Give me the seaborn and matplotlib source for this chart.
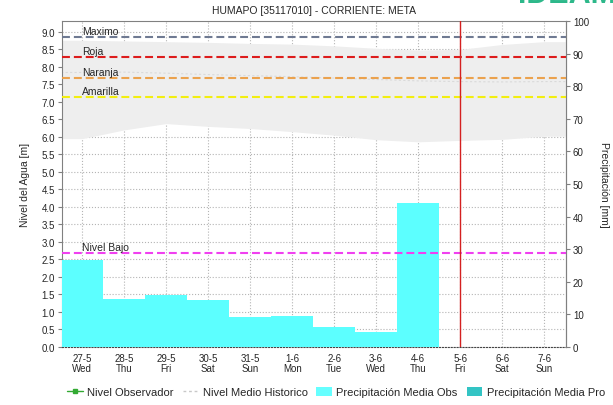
"""Nivel del agua y precipitación - estación HUMAPO (río Meta)."""

import matplotlib

matplotlib.use("Agg")
import matplotlib.pyplot as plt
import numpy as np
import seaborn as sns
from matplotlib.lines import Line2D
from matplotlib.patches import Patch
from matplotlib.ticker import MultipleLocator, FormatStrFormatter

DAYS = ["27-5", "28-5", "29-5", "30-5", "31-5", "1-6", "2-6", "3-6", "4-6", "5-6", "6-6", "7-6"]
WEEKDAYS = ["Wed", "Thu", "Fri", "Sat", "Sun", "Mon", "Tue", "Wed", "Thu", "Fri", "Sat", "Sun"]
PRECIP_MM = [26.8, 14.7, 15.8, 14.3, 9.2, 9.6, 6.0, 4.5, 44.1, 0.0, 0.0, 0.0]

# historic band (min / max) and historic mean, meters, one value per day
HIST_LOW_M = [5.95, 6.2, 6.38, 6.3, 6.24, 6.15, 6.05, 5.92, 5.86, 5.9, 5.93, 6.02]
HIST_HIGH_M = [8.76, 8.74, 8.72, 8.7, 8.67, 8.65, 8.6, 8.53, 8.48, 8.5, 8.64, 8.72]
HIST_MEAN_M = [7.84, 7.85, 7.82, 7.78, 7.75, 7.72, 7.68, 7.64, 7.6, 7.58, 7.57, 7.58]

THRESHOLD_NAMES = ["Maximo", "Roja", "Naranja", "Amarilla", "Nivel Bajo"]
THRESHOLD_M = [8.86, 8.27, 7.69, 7.14, 2.69]
THRESHOLD_COLORS = ["#6f7a92", "#dd1c1c", "#eba24e", "#f2ee10", "#f040f0"]
TODAY = "5-6"

TITLE = "HUMAPO [35117010] - CORRIENTE: META"

sns.set_style("white")
plt.rcParams["font.family"] = ["Liberation Sans", "DejaVu Sans"]

fig = plt.figure(figsize=(6.13, 4.06), dpi=100)
ax = fig.add_axes([62 / 613, 1 - 348 / 406, (566 - 62) / 613, (348 - 22) / 406])

# historic band and mean on the level axis
idx = np.arange(len(DAYS))
xb = np.r_[-0.5, idx, len(DAYS) - 0.5]
low = np.r_[HIST_LOW_M[0], HIST_LOW_M, HIST_LOW_M[-1]]
high = np.r_[HIST_HIGH_M[0], HIST_HIGH_M, HIST_HIGH_M[-1]]
mean = np.r_[HIST_MEAN_M[0], HIST_MEAN_M, HIST_MEAN_M[-1]]
ax.fill_between(xb, low, high, color="#eeeeee", lw=0, zorder=1)
ax.plot(xb, mean, color="#dadada", ls=(0, (2, 2)), lw=0.8, zorder=1.2)

# precipitation bars on the right axis
ax2 = ax.twinx()
sns.barplot(x=DAYS, y=PRECIP_MM, ax=ax2, color="#5cffff", saturation=1,
            width=1.0, linewidth=0)
ax2.set_ylim(0, 100)
ax2.yaxis.set_major_locator(MultipleLocator(10))
ax2.set_ylabel("Precipitación [mm]", rotation=270, labelpad=14, fontsize=7.5)

# thresholds drawn over the bars
ax3 = ax.twinx()
for name, y, c in zip(THRESHOLD_NAMES, THRESHOLD_M, THRESHOLD_COLORS):
    ax3.axhline(y, color=c, lw=1.5, ls=(0, (3.8, 1.9)))
    ax3.text(0, y + 0.03, name, fontsize=7.5, va="bottom", ha="left")
ax3.axvline(DAYS.index(TODAY), color="#d42020", lw=1)

ylim_m = (0, 9.31)
for a in (ax, ax3):
    a.set_ylim(*ylim_m)
ax.set_xlim(-0.48, len(DAYS) - 0.48)

ax3.yaxis.set_visible(False)
for s in ax3.spines.values():
    s.set_visible(False)
for k in ("left", "top", "bottom"):
    ax2.spines[k].set_visible(False)
ax2.spines["right"].set_color("#808080")

ax.yaxis.set_major_locator(MultipleLocator(0.5))
ax.yaxis.set_major_formatter(FormatStrFormatter("%.1f"))
ax.set_xticks(idx)
ax.set_xticklabels([f"{d}\n{w}" for d, w in zip(DAYS, WEEKDAYS)], linespacing=1.1)
ax.set_ylabel("Nivel del Agua [m]", fontsize=7.5, labelpad=8)
ax.grid(True, ls=":", color="#b4b4b4", lw=0.8)
for k in ("left", "top", "right"):
    ax.spines[k].set_color("#808080")
ax.spines["bottom"].set_color("#444444")
ax.spines["bottom"].set_linestyle(":")

ax.tick_params(axis="y", labelsize=7, length=3, color="#808080", pad=2, left=True)
ax.tick_params(axis="x", labelsize=7, length=0, pad=4)
ax2.tick_params(axis="y", labelsize=7, length=3, color="#808080", pad=2, right=True)
ax.set_title(TITLE, fontsize=7.5, pad=6)

# logo, cut by the top edge as in the original
fig.text(518 / 613, 1 - 3 / 406, "IDEAM", color="#2db88a", fontsize=22,
         fontweight="bold", ha="left", va="baseline")

handles = [
    Line2D([], [], color="#33aa33", marker="s", markersize=2.5, lw=1),
    Line2D([], [], color="#c8c8c8", ls=(0, (2, 2)), lw=1),
    Patch(facecolor="#66ffff", edgecolor="none"),
    Patch(facecolor="#33c4c4", edgecolor="none"),
]
labels = ["Nivel Observador", "Nivel Medio Historico",
          "Precipitación Media Obs", "Precipitación Media Pro"]
fig.legend(handles, labels, loc="center", bbox_to_anchor=(336 / 613, 1 - 393 / 406),
           ncol=4, frameon=False, fontsize=8, handlelength=1.4, handletextpad=0.4,
           columnspacing=0.8, handleheight=0.9)

fig.savefig("out.png", dpi=100)
